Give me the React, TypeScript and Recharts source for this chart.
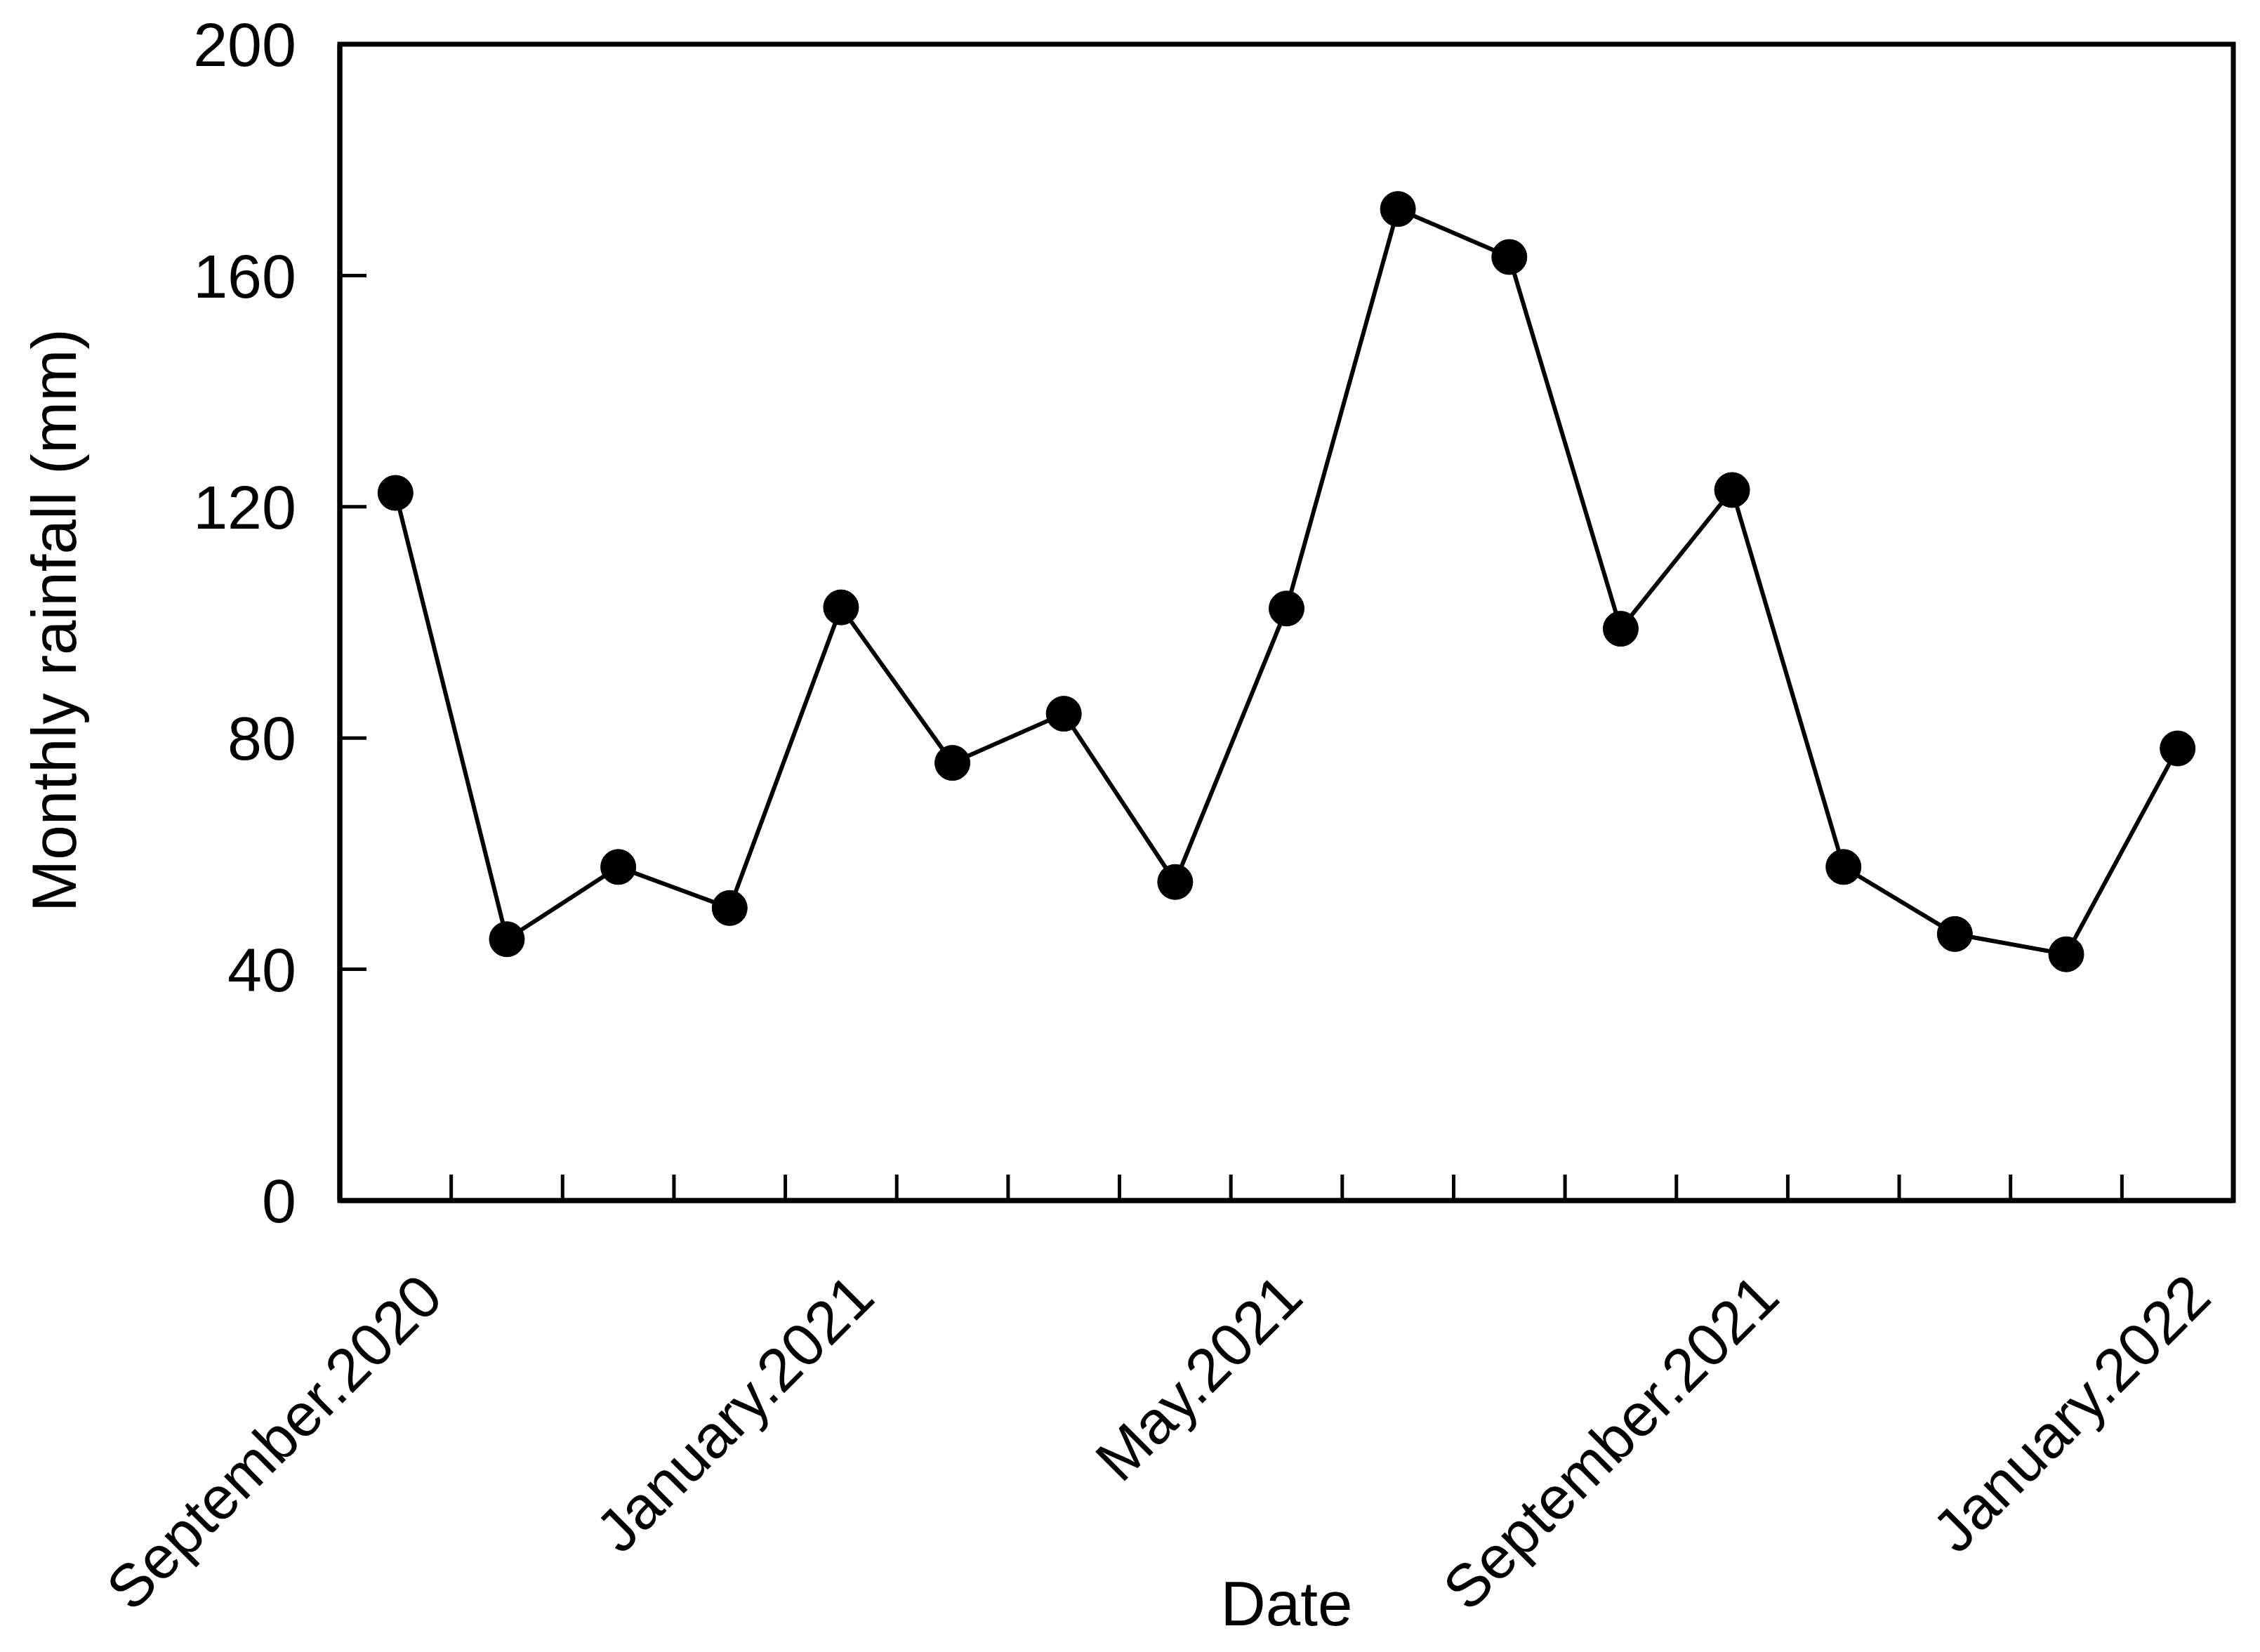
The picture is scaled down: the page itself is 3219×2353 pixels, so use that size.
import React from "react";
import { LineChart, Line, XAxis, YAxis, ReferenceArea, Label } from "recharts";

// months since September 2020
const months = [
  "2020-09", "2020-10", "2020-11", "2020-12", "2021-01", "2021-02", "2021-03", "2021-04", "2021-05",
  "2021-06", "2021-07", "2021-08", "2021-09", "2021-10", "2021-11", "2021-12", "2022-01",
];
const rainfall = [122.4, 45.2, 57.7, 50.6, 102.6, 75.7, 84.2, 55.1, 102.4, 171.5, 163.2, 98.9, 122.9, 57.7, 46.1, 42.6, 78.2];

const tickLabels: Record<number, string> = {
  0: "September.2020",
  4: "January.2021",
  8: "May.2021",
  12: "September.2021",
  16: "January.2022",
};
const yTicks = [0, 40, 80, 120, 160, 200];

const data = months.map((m, i) => ({ month: m, idx: i, rain: rainfall[i] }));
const xTicks = months.map((_, i) => i);

const FONT = "'Liberation Sans', Arial, Helvetica, sans-serif";
const FS = 86;
const TITLE_FS = 89;

let ctx: CanvasRenderingContext2D | null = null;
function textWidth(s: string, size: number) {
  if (!ctx && typeof document !== "undefined") ctx = document.createElement("canvas").getContext("2d");
  if (!ctx) return s.length * size * 0.55;
  ctx.font = `${size}px 'Liberation Sans', Arial, sans-serif`;
  return ctx.measureText(s).width;
}
const refWidth = textWidth("May.2021", FS);

const DateTick = (props: any) => {
  const { x, y, payload, width } = props;
  const band = width / months.length;
  const text = tickLabels[payload.value];
  // longer labels sit a little further right, as in the original plot
  const shift = text ? 0.17 * (textWidth(text, FS) - refWidth) : 0;
  return (
    <g>
      {payload.value > 0 && (
        <line x1={x - band / 2} x2={x - band / 2} y1={y} y2={y - 37} stroke="#000" strokeWidth={5} />
      )}
      {text && (
        <text
          transform={`translate(${x + 27 + shift}, ${y + 142}) rotate(-45)`}
          textAnchor="end"
          fontFamily={FONT}
          fontSize={FS}
          fill="#000"
        >
          {text}
        </text>
      )}
    </g>
  );
};

const RainTick = (props: any) => {
  const { x, y, payload } = props;
  const v = payload.value;
  return (
    <g>
      {v > 0 && v < 200 && <line x1={x} x2={x + 38} y1={y} y2={y} stroke="#000" strokeWidth={5} />}
      <text x={x - 62} y={y} dy="0.355em" textAnchor="end" fontFamily={FONT} fontSize={88} fill="#000">
        {v}
      </text>
    </g>
  );
};

export default function App() {
  return (
    <div style={{ position: "absolute", left: 0, top: 0, width: 3219, height: 2353, background: "#fff" }}>
      <LineChart width={3219} height={2353} data={data} margin={{ top: 63, right: 38, left: 0, bottom: 0 }}>
        <XAxis
          dataKey="idx"
          type="number"
          domain={[-0.5, 16.5]}
          ticks={xTicks}
          interval={0}
          height={643}
          tickLine={false}
          tickSize={0}
          tickMargin={0}
          axisLine={{ stroke: "#000", strokeWidth: 7 }}
          tick={<DateTick />}
        >
          <Label
            content={(p: any) => {
              const vb = p.viewBox || { x: 484, y: 1710, width: 2697, height: 643 };
              return (
                <text x={vb.x + vb.width / 2} y={vb.y + 605} textAnchor="middle" fontFamily={FONT} fontSize={TITLE_FS} fill="#000">
                  Date
                </text>
              );
            }}
          />
        </XAxis>
        <YAxis
          type="number"
          domain={[0, 200]}
          ticks={yTicks}
          interval={0}
          width={484}
          tickLine={false}
          tickSize={0}
          tickMargin={0}
          axisLine={{ stroke: "#000", strokeWidth: 7 }}
          tick={<RainTick />}
        >
          <Label
            content={(p: any) => {
              const vb = p.viewBox || { x: 0, y: 63, width: 484, height: 1647 };
              const cy = vb.y + vb.height / 2;
              return (
                <text
                  transform={`translate(${vb.x + 108}, ${cy - 3}) rotate(-90)`}
                  textAnchor="middle"
                  fontFamily={FONT}
                  fontSize={TITLE_FS}
                  fill="#000"
                >
                  Monthly rainfall (mm)
                </text>
              );
            }}
          />
        </YAxis>
        <ReferenceArea
          x1={-0.5}
          x2={16.5}
          y1={0}
          y2={200}
          fill="none"
          fillOpacity={0}
          stroke="#000"
          strokeWidth={7}
        />
        <Line
          type="linear"
          dataKey="rain"
          stroke="#000"
          strokeWidth={6}
          dot={{ r: 25, fill: "#000", stroke: "#000", strokeWidth: 1 }}
          activeDot={false}
          isAnimationActive={false}
        />
      </LineChart>
    </div>
  );
}
